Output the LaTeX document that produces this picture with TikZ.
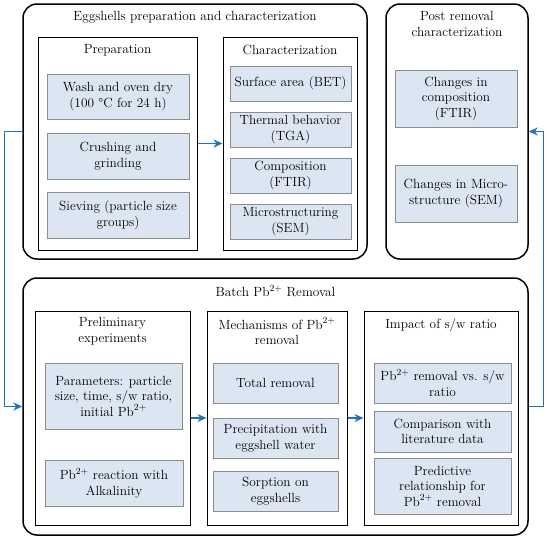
\documentclass[tikz,border=0pt]{standalone}
\usepackage{tikz}
\usetikzlibrary{
  arrows.meta,
  positioning
}
\usepackage{xcolor}
\definecolor{itemfill}{RGB}{220,230,242}
\definecolor{itemline}{RGB}{140,140,140}
\definecolor{flowblue}{RGB}{36,112,192}
\newcommand{\Pbion}{Pb\textsuperscript{2+}}

\begin{document}
\begin{tikzpicture}[
  x=1pt, y=-1pt,
  font=\fontsize{13.3}{15.5}\selectfont,
  outer/.style={draw, line width=1.5pt, rounded corners=14pt, minimum width=#1},
  frame/.style={draw, line width=1pt, minimum width=#1, minimum height=214pt},
  item/.style={draw=itemline, fill=itemfill, line width=0.8pt, align=center, inner sep=2pt, minimum width=#1},
  title/.style={align=center, inner sep=0pt},
  arrow/.style={-{Stealth[length=9pt, width=8pt]}, flowblue, line width=1.4pt}
]
  \useasboundingbox (0,0) rectangle (550,538);

  % Eggshells preparation and characterization
  \node[outer=344pt, minimum height=255pt] (eggs) at (195,131.5) {};
  \node[title, below=8pt of eggs.north] {Eggshells preparation and characterization};

  % Preparation
  \node[frame=159pt, minimum height=213pt] (prep) at (117.5,143.5) {};
  \node[title, below=8pt of prep.north] {Preparation};
  \node[item=142pt, minimum height=45pt] (wash) at (118,96.5) {Wash and oven dry\\(100~°C for 24~h)};
  \node[item=142pt, minimum height=46pt] (crush) at (118,156) {Crushing and\\grinding};
  \node[item=142pt, minimum height=46pt] (sieve) at (118,215) {Sieving (particle size\\groups)};

  % Characterization
  \node[frame=134pt, minimum height=213pt] (char) at (290,143.5) {};
  \node[title, below=8pt of char.north] {Characterization};
  \node[item=121pt, minimum height=35pt] (bet) at (290.5,83.5) {Surface area (BET)};
  \node[item=121pt, minimum height=35pt] (tga) at (290.5,129.5) {Thermal behavior\\(TGA)};
  \node[item=121pt, minimum height=35pt] (ftir) at (290.5,175.5) {Composition\\(FTIR)};
  \node[item=121pt, minimum height=35pt] (sem) at (290.5,221.5) {Microstructuring\\(SEM)};

  % Post removal characterization
  \node[outer=142pt, minimum height=255pt] (post) at (457,131.5) {};
  \node[title, below=8pt of post.north] {Post removal\\characterization};
  \node[item=122pt, minimum height=57pt] (pcomp) at (456,98.5) {Changes in\\composition\\(FTIR)};
  \node[item=122pt, minimum height=57pt] (pmicro) at (456,193.5) {Changes in Micro-\\structure (SEM)};

  % Batch removal
  \node[outer=505pt, minimum height=257pt] (batch) at (275.5,406.5) {};
  \node[title, below=8pt of batch.north] {Batch \Pbion{} Removal};

  % Preliminary experiments
  \node[frame=155pt] (prelim) at (112.5,418) {};
  \node[title, below=7pt of prelim.north] {Preliminary\\experiments};
  \node[item=137pt, minimum height=66pt] (params) at (113.5,396) {Parameters: particle\\size, time, s/w ratio,\\initial \Pbion};
  \node[item=138pt, minimum height=46pt] (alk) at (114,483) {\Pbion{} reaction with\\Alkalinity};

  % Mechanisms
  \node[frame=140pt] (mech) at (277,418) {};
  \node[title, below=7pt of mech.north] {Mechanisms of \Pbion\\removal};
  \node[item=125pt, minimum height=40pt] (total) at (275.5,383) {Total removal};
  \node[item=125pt, minimum height=40pt] (precip) at (275.5,438) {Precipitation with\\eggshell water};
  \node[item=125pt, minimum height=40pt] (sorp) at (275.5,491) {Sorption on\\eggshells};

  % Impact of s/w ratio
  \node[frame=154pt] (impact) at (441,418) {};
  \node[title, below=8pt of impact.north] {Impact of s/w ratio};
  \node[item=137pt, minimum height=40pt] (vsratio) at (442.5,383) {\Pbion{} removal vs. s/w\\ratio};
  \node[item=137pt, minimum height=41pt] (compar) at (442.5,431.5) {Comparison with\\literature data};
  \node[item=137pt, minimum height=56pt] (predict) at (442.5,486) {Predictive\\relationship for\\\Pbion{} removal};

  % Connections
  \draw[arrow] (prep) -- (char);
  \draw[arrow] (prelim) -- (mech);
  \draw[arrow] (mech) -- (impact);
  \draw[arrow] (eggs.west) -- ++(-18,0) |- (batch.west);
  \draw[arrow] (batch.east) -- ++(15,0) |- (post.east);
\end{tikzpicture}
\end{document}
